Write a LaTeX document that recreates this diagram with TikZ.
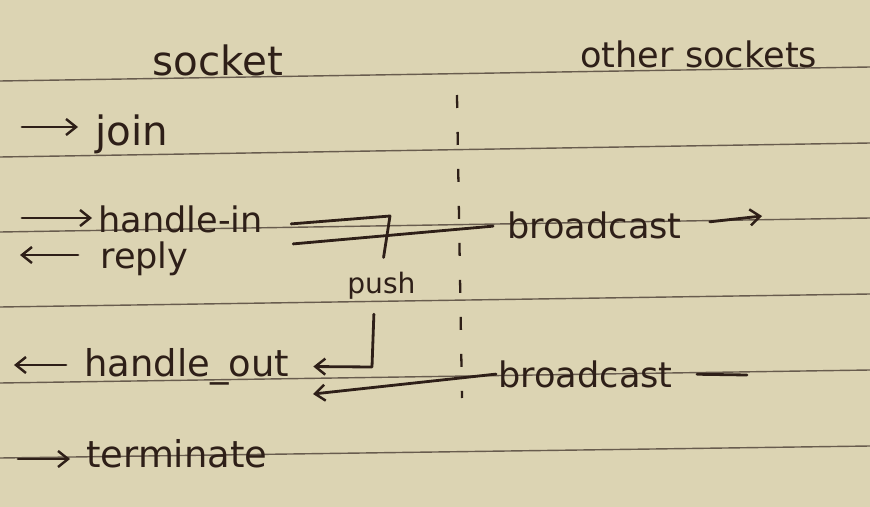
\documentclass[tikz,border=0pt]{standalone}
\usepackage{fontspec}
\setmainfont{DejaVu Sans}
\usetikzlibrary{arrows.meta}
\definecolor{paper}{RGB}{220,212,179}
\definecolor{inkbrown}{RGB}{46,31,24}
\definecolor{rulegray}{RGB}{104,92,78}

\begin{document}
\begin{tikzpicture}[x=0.02cm, y=-0.02cm,
  hand/.style={anchor=base west, inner sep=0pt, text=inkbrown, font=\fontsize{20}{24}\selectfont},
  inkline/.style={draw=inkbrown, line width=1.6pt, line cap=round, line join=round},
  inkarrow/.style={inkline, -{Straight Barb[length=2mm, width=3.2mm, line width=1.4pt]}},
  ruled/.style={draw=rulegray, line width=0.8pt},
  divider/.style={draw=inkbrown, line width=1.3pt, dash pattern=on 0.26cm off 0.48cm}]

\fill[paper] (0,0) rectangle (870,507);
\useasboundingbox (0,0) rectangle (870,507);

\draw[ruled] (0,81) -- (870,67);
\draw[ruled] (0,157) -- (870,143);
\draw[ruled] (0,232) -- (870,218);
\draw[ruled] (0,307) -- (870,294);
\draw[ruled] (0,383) -- (870,370);
\draw[ruled] (0,458) -- (870,446);

\node[hand, font=\fontsize{23}{27}\selectfont] (socket) at (152,75) {socket};
\node[hand] (others) at (580,68) {other sockets};
\node[hand, font=\fontsize{23}{27}\selectfont] (join) at (95,145) {join};
\node[hand] (hin) at (98,232) {handle-in};
\node[hand] (reply) at (100,268) {reply};
\node[hand, font=\fontsize{16}{19}\selectfont] (push) at (347,293) {push};
\node[hand, font=\fontsize{21}{25}\selectfont] (hout) at (84,376) {handle\_out};
\node[hand, font=\fontsize{21}{25}\selectfont] (term) at (86,467) {terminate};
\node[hand] (bcin) at (507,238) {broadcast};
\node[hand] (bcout) at (498,387) {broadcast};

\coordinate (joinin) at (22,127);
\coordinate (hinin) at (22,218);
\coordinate (replyout) at (20,255);
\coordinate (houtout) at (14,365);
\coordinate (termin) at (18,459);
\coordinate (bcinout) at (762,216);
\coordinate (bcoutend) at (747,375);
\coordinate (bend) at (390,216);
\coordinate (corner) at (372,367);
\coordinate (backend) at (313,394);
\coordinate (divtop) at (457,95);
\coordinate (divbot) at (462,398);

\draw[divider] (divtop) -- (divbot);
\draw[inkarrow, shorten >=0.34cm] (joinin) -- (joinin -| join.west);
\draw[inkarrow, shorten >=0.12cm] (hinin) -- (hinin -| hin.west);
\draw[inkarrow, shorten <=0.44cm] (replyout -| reply.west) -- (replyout);
\draw[inkarrow, shorten <=0.36cm] (houtout -| hout.west) -- (houtout);
\draw[inkarrow, shorten >=0.32cm] (termin) -- (termin -| term.west);
\draw[inkline, shorten >=0.28cm] ([shift={(28,5)}]hin.east) -- (bend) -- (push.north);
\draw[inkarrow, shorten <=0.3cm, shorten >=0.48cm] ([shift={(-7,0)}]push.south) -- (corner) -- (hout.east);
\draw[inkline, shorten >=0.28cm] ([shift={(30,25)}]hin.east) -- (bcin.west);
\draw[inkarrow, shorten <=0.56cm] (bcin.east) -- (bcinout);
\draw[inkline, shorten <=0.48cm] (bcout.east) -- (bcoutend);
\draw[inkarrow, shorten <=0.04cm] (bcout.west) -- (backend);
\end{tikzpicture}
\end{document}
